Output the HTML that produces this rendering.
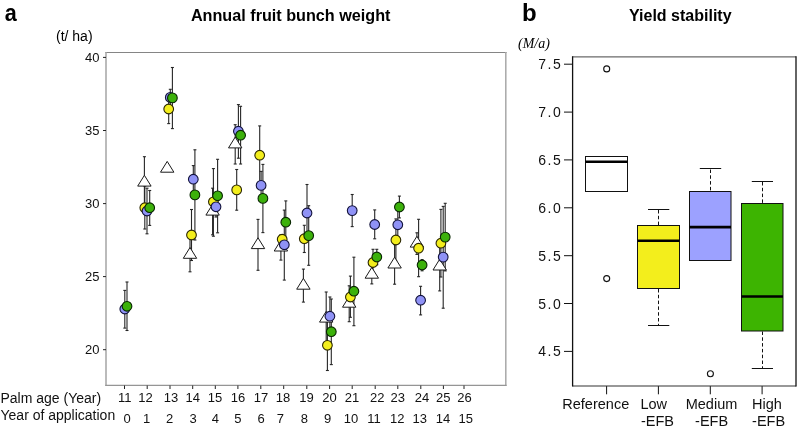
<!DOCTYPE html>
<html><head><meta charset="utf-8"><style>
html,body{margin:0;padding:0;background:#fff;}
body{width:798px;height:429px;overflow:hidden;}
svg{display:block;font-family:"Liberation Sans",sans-serif;}
svg{will-change:transform;}
</style></head><body>
<svg width="798" height="429" viewBox="0 0 798 429">
<rect width="798" height="429" fill="#fff"/>
<text transform="translate(4.8,21) scale(0.9,1)" font-size="24" font-weight="bold">a</text>
<text x="190.9" y="21.4" font-size="16.2" font-weight="bold">Annual fruit bunch weight</text>
<text x="56" y="40.8" font-size="14">(t/ ha)</text>
<line x1="105.3" y1="52.5" x2="506.6" y2="52.5" stroke="#858585" stroke-width="1.1"/>
<line x1="106" y1="52" x2="106" y2="386" stroke="#a5a5a5" stroke-width="1.5"/>
<line x1="505.8" y1="52" x2="505.8" y2="386" stroke="#a8a8a8" stroke-width="1.5"/>
<line x1="105.3" y1="385.3" x2="506.6" y2="385.3" stroke="#959595" stroke-width="1.3"/>
<g stroke="#222" stroke-width="1"><line x1="103" y1="57.4" x2="106" y2="57.4"/><line x1="103" y1="130.5" x2="106" y2="130.5"/><line x1="103" y1="203.6" x2="106" y2="203.6"/><line x1="103" y1="276.6" x2="106" y2="276.6"/><line x1="103" y1="349.7" x2="106" y2="349.7"/><line x1="124.5" y1="385.5" x2="124.5" y2="389"/><line x1="147.2" y1="385.5" x2="147.2" y2="389"/><line x1="170.0" y1="385.5" x2="170.0" y2="389"/><line x1="192.7" y1="385.5" x2="192.7" y2="389"/><line x1="215.3" y1="385.5" x2="215.3" y2="389"/><line x1="237.9" y1="385.5" x2="237.9" y2="389"/><line x1="260.8" y1="385.5" x2="260.8" y2="389"/><line x1="283.7" y1="385.5" x2="283.7" y2="389"/><line x1="306.8" y1="385.5" x2="306.8" y2="389"/><line x1="329.6" y1="385.5" x2="329.6" y2="389"/><line x1="352.2" y1="385.5" x2="352.2" y2="389"/><line x1="375.2" y1="385.5" x2="375.2" y2="389"/><line x1="397.8" y1="385.5" x2="397.8" y2="389"/><line x1="420.8" y1="385.5" x2="420.8" y2="389"/><line x1="443.4" y1="385.5" x2="443.4" y2="389"/><line x1="464.0" y1="385.5" x2="464.0" y2="389"/></g>
<g font-size="13" fill="#111"><text x="99.5" y="62.0" text-anchor="end">40</text><text x="99.5" y="135.1" text-anchor="end">35</text><text x="99.5" y="208.2" text-anchor="end">30</text><text x="99.5" y="281.2" text-anchor="end">25</text><text x="99.5" y="354.3" text-anchor="end">20</text></g>
<g font-size="13" fill="#111"><text x="124.7" y="401.5" text-anchor="middle">11</text><text x="145.6" y="401.5" text-anchor="middle">12</text><text x="171.0" y="401.5" text-anchor="middle">13</text><text x="192.8" y="401.5" text-anchor="middle">14</text><text x="215.0" y="401.5" text-anchor="middle">15</text><text x="238.0" y="401.5" text-anchor="middle">16</text><text x="261.0" y="401.5" text-anchor="middle">17</text><text x="283.0" y="401.5" text-anchor="middle">18</text><text x="306.6" y="401.5" text-anchor="middle">19</text><text x="329.5" y="401.5" text-anchor="middle">20</text><text x="352.0" y="401.5" text-anchor="middle">21</text><text x="377.2" y="401.5" text-anchor="middle">22</text><text x="397.8" y="401.5" text-anchor="middle">23</text><text x="422.0" y="401.5" text-anchor="middle">24</text><text x="443.3" y="401.5" text-anchor="middle">25</text><text x="464.5" y="401.5" text-anchor="middle">26</text><text x="127.2" y="422.5" text-anchor="middle">0</text><text x="146.6" y="422.5" text-anchor="middle">1</text><text x="169.6" y="422.5" text-anchor="middle">2</text><text x="193.0" y="422.5" text-anchor="middle">3</text><text x="215.4" y="422.5" text-anchor="middle">4</text><text x="237.8" y="422.5" text-anchor="middle">5</text><text x="261.0" y="422.5" text-anchor="middle">6</text><text x="280.4" y="422.5" text-anchor="middle">7</text><text x="304.3" y="422.5" text-anchor="middle">8</text><text x="327.6" y="422.5" text-anchor="middle">9</text><text x="350.9" y="422.5" text-anchor="middle">10</text><text x="374.0" y="422.5" text-anchor="middle">11</text><text x="397.3" y="422.5" text-anchor="middle">12</text><text x="419.8" y="422.5" text-anchor="middle">13</text><text x="442.9" y="422.5" text-anchor="middle">14</text><text x="465.8" y="422.5" text-anchor="middle">15</text></g>
<text x="0.5" y="402.7" font-size="14" fill="#111">Palm age (Year)</text>
<text x="0.5" y="420.3" font-size="14" fill="#111">Year of application</text>
<g stroke="#262626" stroke-width="1.1"><line x1="124.8" y1="290.4" x2="124.8" y2="328.1"/><line x1="123.3" y1="290.4" x2="126.3" y2="290.4"/><line x1="123.3" y1="328.1" x2="126.3" y2="328.1"/><line x1="127.0" y1="282.0" x2="127.0" y2="330.5"/><line x1="125.5" y1="282.0" x2="128.5" y2="282.0"/><line x1="125.5" y1="330.5" x2="128.5" y2="330.5"/><line x1="144.4" y1="156.7" x2="144.4" y2="208.3"/><line x1="142.9" y1="156.7" x2="145.9" y2="156.7"/><line x1="142.9" y1="208.3" x2="145.9" y2="208.3"/><line x1="144.8" y1="186.0" x2="144.8" y2="229.0"/><line x1="143.3" y1="186.0" x2="146.3" y2="186.0"/><line x1="143.3" y1="229.0" x2="146.3" y2="229.0"/><line x1="147.0" y1="188.2" x2="147.0" y2="233.8"/><line x1="145.5" y1="188.2" x2="148.5" y2="188.2"/><line x1="145.5" y1="233.8" x2="148.5" y2="233.8"/><line x1="149.7" y1="190.5" x2="149.7" y2="225.4"/><line x1="148.2" y1="190.5" x2="151.2" y2="190.5"/><line x1="148.2" y1="225.4" x2="151.2" y2="225.4"/><line x1="170.3" y1="89.3" x2="170.3" y2="105.5"/><line x1="168.8" y1="89.3" x2="171.8" y2="89.3"/><line x1="168.8" y1="105.5" x2="171.8" y2="105.5"/><line x1="172.4" y1="67.5" x2="172.4" y2="128.6"/><line x1="170.9" y1="67.5" x2="173.9" y2="67.5"/><line x1="170.9" y1="128.6" x2="173.9" y2="128.6"/><line x1="168.7" y1="94.4" x2="168.7" y2="123.6"/><line x1="167.2" y1="94.4" x2="170.2" y2="94.4"/><line x1="167.2" y1="123.6" x2="170.2" y2="123.6"/><line x1="193.3" y1="165.6" x2="193.3" y2="192.8"/><line x1="191.8" y1="165.6" x2="194.8" y2="165.6"/><line x1="191.8" y1="192.8" x2="194.8" y2="192.8"/><line x1="194.9" y1="149.8" x2="194.9" y2="240.0"/><line x1="193.4" y1="149.8" x2="196.4" y2="149.8"/><line x1="193.4" y1="240.0" x2="196.4" y2="240.0"/><line x1="191.5" y1="209.5" x2="191.5" y2="260.5"/><line x1="190.0" y1="209.5" x2="193.0" y2="209.5"/><line x1="190.0" y1="260.5" x2="193.0" y2="260.5"/><line x1="190.0" y1="237.6" x2="190.0" y2="271.8"/><line x1="188.5" y1="237.6" x2="191.5" y2="237.6"/><line x1="188.5" y1="271.8" x2="191.5" y2="271.8"/><line x1="212.6" y1="188.2" x2="212.6" y2="234.8"/><line x1="211.1" y1="188.2" x2="214.1" y2="188.2"/><line x1="211.1" y1="234.8" x2="214.1" y2="234.8"/><line x1="213.4" y1="168.6" x2="213.4" y2="236.2"/><line x1="211.9" y1="168.6" x2="214.9" y2="168.6"/><line x1="211.9" y1="236.2" x2="214.9" y2="236.2"/><line x1="217.6" y1="159.3" x2="217.6" y2="232.8"/><line x1="216.1" y1="159.3" x2="219.1" y2="159.3"/><line x1="216.1" y1="232.8" x2="219.1" y2="232.8"/><line x1="216.0" y1="196.0" x2="216.0" y2="217.0"/><line x1="214.5" y1="196.0" x2="217.5" y2="196.0"/><line x1="214.5" y1="217.0" x2="217.5" y2="217.0"/><line x1="238.4" y1="104.6" x2="238.4" y2="158.2"/><line x1="236.9" y1="104.6" x2="239.9" y2="104.6"/><line x1="236.9" y1="158.2" x2="239.9" y2="158.2"/><line x1="240.6" y1="106.3" x2="240.6" y2="164.0"/><line x1="239.1" y1="106.3" x2="242.1" y2="106.3"/><line x1="239.1" y1="164.0" x2="242.1" y2="164.0"/><line x1="235.2" y1="124.7" x2="235.2" y2="164.0"/><line x1="233.7" y1="124.7" x2="236.7" y2="124.7"/><line x1="233.7" y1="164.0" x2="236.7" y2="164.0"/><line x1="236.7" y1="169.5" x2="236.7" y2="210.2"/><line x1="235.2" y1="169.5" x2="238.2" y2="169.5"/><line x1="235.2" y1="210.2" x2="238.2" y2="210.2"/><line x1="259.7" y1="125.9" x2="259.7" y2="184.5"/><line x1="258.2" y1="125.9" x2="261.2" y2="125.9"/><line x1="258.2" y1="184.5" x2="261.2" y2="184.5"/><line x1="261.1" y1="171.4" x2="261.1" y2="199.4"/><line x1="259.6" y1="171.4" x2="262.6" y2="171.4"/><line x1="259.6" y1="199.4" x2="262.6" y2="199.4"/><line x1="262.9" y1="164.4" x2="262.9" y2="232.6"/><line x1="261.4" y1="164.4" x2="264.4" y2="164.4"/><line x1="261.4" y1="232.6" x2="264.4" y2="232.6"/><line x1="258.0" y1="219.4" x2="258.0" y2="270.3"/><line x1="256.5" y1="219.4" x2="259.5" y2="219.4"/><line x1="256.5" y1="270.3" x2="259.5" y2="270.3"/><line x1="285.8" y1="200.9" x2="285.8" y2="243.5"/><line x1="284.3" y1="200.9" x2="287.3" y2="200.9"/><line x1="284.3" y1="243.5" x2="287.3" y2="243.5"/><line x1="284.3" y1="210.1" x2="284.3" y2="280.1"/><line x1="282.8" y1="210.1" x2="285.8" y2="210.1"/><line x1="282.8" y1="280.1" x2="285.8" y2="280.1"/><line x1="280.9" y1="234.7" x2="280.9" y2="260.1"/><line x1="279.4" y1="234.7" x2="282.4" y2="234.7"/><line x1="279.4" y1="260.1" x2="282.4" y2="260.1"/><line x1="307.0" y1="184.5" x2="307.0" y2="241.5"/><line x1="305.5" y1="184.5" x2="308.5" y2="184.5"/><line x1="305.5" y1="241.5" x2="308.5" y2="241.5"/><line x1="308.7" y1="205.7" x2="308.7" y2="265.3"/><line x1="307.2" y1="205.7" x2="310.2" y2="205.7"/><line x1="307.2" y1="265.3" x2="310.2" y2="265.3"/><line x1="304.3" y1="225.3" x2="304.3" y2="252.5"/><line x1="302.8" y1="225.3" x2="305.8" y2="225.3"/><line x1="302.8" y1="252.5" x2="305.8" y2="252.5"/><line x1="303.4" y1="269.1" x2="303.4" y2="302.1"/><line x1="301.9" y1="269.1" x2="304.9" y2="269.1"/><line x1="301.9" y1="302.1" x2="304.9" y2="302.1"/><line x1="326.2" y1="292.0" x2="326.2" y2="345.0"/><line x1="324.7" y1="292.0" x2="327.7" y2="292.0"/><line x1="324.7" y1="345.0" x2="327.7" y2="345.0"/><line x1="329.9" y1="297.0" x2="329.9" y2="335.4"/><line x1="328.4" y1="297.0" x2="331.4" y2="297.0"/><line x1="328.4" y1="335.4" x2="331.4" y2="335.4"/><line x1="331.3" y1="299.0" x2="331.3" y2="364.6"/><line x1="329.8" y1="299.0" x2="332.8" y2="299.0"/><line x1="329.8" y1="364.6" x2="332.8" y2="364.6"/><line x1="327.4" y1="320.1" x2="327.4" y2="370.5"/><line x1="325.9" y1="320.1" x2="328.9" y2="320.1"/><line x1="325.9" y1="370.5" x2="328.9" y2="370.5"/><line x1="352.2" y1="194.5" x2="352.2" y2="226.6"/><line x1="350.7" y1="194.5" x2="353.7" y2="194.5"/><line x1="350.7" y1="226.6" x2="353.7" y2="226.6"/><line x1="353.9" y1="257.2" x2="353.9" y2="325.7"/><line x1="352.4" y1="257.2" x2="355.4" y2="257.2"/><line x1="352.4" y1="325.7" x2="355.4" y2="325.7"/><line x1="350.4" y1="276.1" x2="350.4" y2="317.3"/><line x1="348.9" y1="276.1" x2="351.9" y2="276.1"/><line x1="348.9" y1="317.3" x2="351.9" y2="317.3"/><line x1="349.2" y1="285.8" x2="349.2" y2="321.7"/><line x1="347.7" y1="285.8" x2="350.7" y2="285.8"/><line x1="347.7" y1="321.7" x2="350.7" y2="321.7"/><line x1="374.7" y1="209.9" x2="374.7" y2="238.8"/><line x1="373.2" y1="209.9" x2="376.2" y2="209.9"/><line x1="373.2" y1="238.8" x2="376.2" y2="238.8"/><line x1="376.8" y1="249.3" x2="376.8" y2="264.7"/><line x1="375.3" y1="249.3" x2="378.3" y2="249.3"/><line x1="375.3" y1="264.7" x2="378.3" y2="264.7"/><line x1="373.0" y1="249.3" x2="373.0" y2="275.7"/><line x1="371.5" y1="249.3" x2="374.5" y2="249.3"/><line x1="371.5" y1="275.7" x2="374.5" y2="275.7"/><line x1="371.8" y1="265.5" x2="371.8" y2="283.9"/><line x1="370.3" y1="265.5" x2="373.3" y2="265.5"/><line x1="370.3" y1="283.9" x2="373.3" y2="283.9"/><line x1="399.4" y1="196.1" x2="399.4" y2="217.9"/><line x1="397.9" y1="196.1" x2="400.9" y2="196.1"/><line x1="397.9" y1="217.9" x2="400.9" y2="217.9"/><line x1="397.8" y1="206.0" x2="397.8" y2="243.6"/><line x1="396.3" y1="206.0" x2="399.3" y2="206.0"/><line x1="396.3" y1="243.6" x2="399.3" y2="243.6"/><line x1="395.9" y1="218.9" x2="395.9" y2="261.1"/><line x1="394.4" y1="218.9" x2="397.4" y2="218.9"/><line x1="394.4" y1="261.1" x2="397.4" y2="261.1"/><line x1="394.6" y1="244.6" x2="394.6" y2="284.2"/><line x1="393.1" y1="244.6" x2="396.1" y2="244.6"/><line x1="393.1" y1="284.2" x2="396.1" y2="284.2"/><line x1="416.9" y1="232.8" x2="416.9" y2="254.4"/><line x1="415.4" y1="232.8" x2="418.4" y2="232.8"/><line x1="415.4" y1="254.4" x2="418.4" y2="254.4"/><line x1="418.6" y1="219.3" x2="418.6" y2="276.7"/><line x1="417.1" y1="219.3" x2="420.1" y2="219.3"/><line x1="417.1" y1="276.7" x2="420.1" y2="276.7"/><line x1="422.1" y1="259.6" x2="422.1" y2="270.8"/><line x1="420.6" y1="259.6" x2="423.6" y2="259.6"/><line x1="420.6" y1="270.8" x2="423.6" y2="270.8"/><line x1="420.6" y1="286.3" x2="420.6" y2="314.9"/><line x1="419.1" y1="286.3" x2="422.1" y2="286.3"/><line x1="419.1" y1="314.9" x2="422.1" y2="314.9"/><line x1="445.2" y1="203.3" x2="445.2" y2="270.9"/><line x1="443.7" y1="203.3" x2="446.7" y2="203.3"/><line x1="443.7" y1="270.9" x2="446.7" y2="270.9"/><line x1="440.9" y1="209.4" x2="440.9" y2="277.0"/><line x1="439.4" y1="209.4" x2="442.4" y2="209.4"/><line x1="439.4" y1="277.0" x2="442.4" y2="277.0"/><line x1="443.2" y1="206.4" x2="443.2" y2="308.2"/><line x1="441.7" y1="206.4" x2="444.7" y2="206.4"/><line x1="441.7" y1="308.2" x2="444.7" y2="308.2"/><line x1="439.7" y1="242.0" x2="439.7" y2="290.9"/><line x1="438.2" y1="242.0" x2="441.2" y2="242.0"/><line x1="438.2" y1="290.9" x2="441.2" y2="290.9"/></g>
<g fill="#fff" stroke="#1a1a1a" stroke-width="1"><polygon points="144.4,175.3 137.7,186.1 151.1,186.1"/><polygon points="167.2,161.4 160.5,172.2 173.9,172.2"/><polygon points="190.0,247.5 183.3,258.3 196.7,258.3"/><polygon points="212.6,204.3 205.9,215.1 219.3,215.1"/><polygon points="235.2,137.1 228.5,147.9 241.9,147.9"/><polygon points="258.0,237.8 251.3,248.6 264.7,248.6"/><polygon points="280.9,240.2 274.2,251.0 287.6,251.0"/><polygon points="303.4,278.4 296.7,289.2 310.1,289.2"/><polygon points="326.2,311.3 319.5,322.1 332.9,322.1"/><polygon points="349.2,296.4 342.5,307.2 355.9,307.2"/><polygon points="371.8,267.4 365.1,278.2 378.5,278.2"/><polygon points="394.6,257.2 387.9,268.0 401.3,268.0"/><polygon points="416.9,236.3 410.2,247.1 423.6,247.1"/><polygon points="439.7,259.2 433.0,270.0 446.4,270.0"/></g>
<g fill="#f3ee1c" stroke="#2a2600" stroke-width="1.1"><circle cx="144.8" cy="207.7" r="4.85"/><circle cx="168.7" cy="109.0" r="4.85"/><circle cx="191.5" cy="235.0" r="4.85"/><circle cx="213.4" cy="201.8" r="4.85"/><circle cx="236.7" cy="189.9" r="4.85"/><circle cx="259.7" cy="155.2" r="4.85"/><circle cx="282.2" cy="239.2" r="4.85"/><circle cx="304.3" cy="238.7" r="4.85"/><circle cx="327.4" cy="345.3" r="4.85"/><circle cx="350.4" cy="297.0" r="4.85"/><circle cx="373.0" cy="262.5" r="4.85"/><circle cx="395.9" cy="240.0" r="4.85"/><circle cx="418.6" cy="248.2" r="4.85"/><circle cx="440.9" cy="243.2" r="4.85"/></g>
<g fill="#8f92f6" stroke="#12123a" stroke-width="1.1"><circle cx="124.8" cy="309.0" r="4.85"/><circle cx="147.0" cy="211.0" r="4.85"/><circle cx="170.3" cy="97.4" r="4.85"/><circle cx="193.3" cy="179.2" r="4.85"/><circle cx="216.0" cy="206.8" r="4.85"/><circle cx="238.4" cy="131.2" r="4.85"/><circle cx="261.1" cy="185.4" r="4.85"/><circle cx="284.3" cy="244.8" r="4.85"/><circle cx="307.0" cy="213.0" r="4.85"/><circle cx="329.9" cy="316.2" r="4.85"/><circle cx="352.2" cy="210.6" r="4.85"/><circle cx="374.7" cy="224.5" r="4.85"/><circle cx="397.8" cy="224.8" r="4.85"/><circle cx="420.6" cy="300.2" r="4.85"/><circle cx="443.2" cy="257.1" r="4.85"/></g>
<g fill="#3cb10b" stroke="#082600" stroke-width="1.1"><circle cx="127.0" cy="306.3" r="4.85"/><circle cx="149.7" cy="207.7" r="4.85"/><circle cx="172.4" cy="97.9" r="4.85"/><circle cx="194.9" cy="194.9" r="4.85"/><circle cx="217.6" cy="195.8" r="4.85"/><circle cx="240.6" cy="135.2" r="4.85"/><circle cx="262.9" cy="198.4" r="4.85"/><circle cx="285.8" cy="222.2" r="4.85"/><circle cx="308.7" cy="235.6" r="4.85"/><circle cx="331.3" cy="331.7" r="4.85"/><circle cx="353.9" cy="291.2" r="4.85"/><circle cx="376.8" cy="257.0" r="4.85"/><circle cx="399.4" cy="207.0" r="4.85"/><circle cx="422.1" cy="265.0" r="4.85"/><circle cx="445.2" cy="237.1" r="4.85"/></g>

<text x="522" y="21" font-size="24" font-weight="bold">b</text>
<text x="629" y="20.7" font-size="16" font-weight="bold">Yield stability</text>
<text x="518" y="48.1" font-size="14" font-style="italic" font-family="Liberation Serif, serif">(M/a)</text>
<g stroke="#111" stroke-width="1"><line x1="564" y1="64.2" x2="572.5" y2="64.2"/><line x1="564" y1="112.1" x2="572.5" y2="112.1"/><line x1="564" y1="159.9" x2="572.5" y2="159.9"/><line x1="564" y1="207.8" x2="572.5" y2="207.8"/><line x1="564" y1="255.7" x2="572.5" y2="255.7"/><line x1="564" y1="303.5" x2="572.5" y2="303.5"/><line x1="564" y1="351.4" x2="572.5" y2="351.4"/><line x1="606.6" y1="386" x2="606.6" y2="394.3"/><line x1="658.4" y1="386" x2="658.4" y2="394.3"/><line x1="710.3" y1="386" x2="710.3" y2="394.3"/><line x1="762.1" y1="386" x2="762.1" y2="394.3"/></g>
<g font-size="14" fill="#111"><text x="562.4" y="69.2" text-anchor="end" letter-spacing="1.6">7.5</text><text x="562.4" y="117.1" text-anchor="end" letter-spacing="1.6">7.0</text><text x="562.4" y="164.9" text-anchor="end" letter-spacing="1.6">6.5</text><text x="562.4" y="212.8" text-anchor="end" letter-spacing="1.6">6.0</text><text x="562.4" y="260.7" text-anchor="end" letter-spacing="1.6">5.5</text><text x="562.4" y="308.5" text-anchor="end" letter-spacing="1.6">5.0</text><text x="562.4" y="356.4" text-anchor="end" letter-spacing="1.6">4.5</text></g>
<!-- boxes -->
<g stroke="#111" stroke-width="1">
<rect x="585.5" y="156.5" width="42" height="35" fill="#fff"/>
<rect x="637.5" y="225.5" width="42" height="63" fill="#f3ee1c"/>
<rect x="689.5" y="191.5" width="41.5" height="69" fill="#9ca1ff"/>
<rect x="741.5" y="203.5" width="41.5" height="127.5" fill="#3db401"/>
</g>
<g stroke="#000" stroke-width="2.6">
<line x1="585.5" y1="161.8" x2="627.5" y2="161.8"/>
<line x1="637.5" y1="240.7" x2="679.5" y2="240.7"/>
<line x1="689.5" y1="227.1" x2="731" y2="227.1"/>
<line x1="741.5" y1="296.5" x2="783" y2="296.5"/>
</g>
<g stroke="#111" stroke-width="1" stroke-dasharray="3.5,2.3">
<line x1="658.5" y1="210" x2="658.5" y2="225.5"/>
<line x1="658.5" y1="289" x2="658.5" y2="325.5"/>
<line x1="710.5" y1="169.5" x2="710.5" y2="191.5"/>
<line x1="762.5" y1="182" x2="762.5" y2="203.5"/>
<line x1="762.5" y1="331.5" x2="762.5" y2="368.5"/>
</g>
<g stroke="#111" stroke-width="1">
<line x1="648" y1="209.5" x2="669.3" y2="209.5"/>
<line x1="648" y1="325.5" x2="669.3" y2="325.5"/>
<line x1="699.8" y1="168.5" x2="721.2" y2="168.5"/>
<line x1="751.8" y1="181.5" x2="773" y2="181.5"/>
<line x1="751.8" y1="368.5" x2="773" y2="368.5"/>
</g>
<g fill="none" stroke="#111" stroke-width="1.1">
<circle cx="606.7" cy="68.9" r="3"/>
<circle cx="606.7" cy="278.6" r="3"/>
<circle cx="710.4" cy="373.7" r="3"/>
</g>
<line x1="572.5" y1="56.9" x2="796.2" y2="56.9" stroke="#6a6a6a" stroke-width="1.2"/>
<line x1="572.5" y1="386" x2="796.2" y2="386" stroke="#333" stroke-width="1.2"/>
<line x1="572.6" y1="56.3" x2="572.6" y2="386.6" stroke="#111" stroke-width="1.3"/>
<line x1="796" y1="56.3" x2="796" y2="386.6" stroke="#111" stroke-width="1.3"/>
<g font-size="14.5" fill="#111">
<text x="562.3" y="409">Reference</text>
<text x="640.4" y="409">Low</text>
<text x="641" y="426.2">-EFB</text>
<text x="711.5" y="409" text-anchor="middle">Medium</text>
<text x="711.6" y="426.2" text-anchor="middle">-EFB</text>
<text x="752" y="409">High</text>
<text x="752.1" y="426.2">-EFB</text>
</g>
</svg>
</body></html>
